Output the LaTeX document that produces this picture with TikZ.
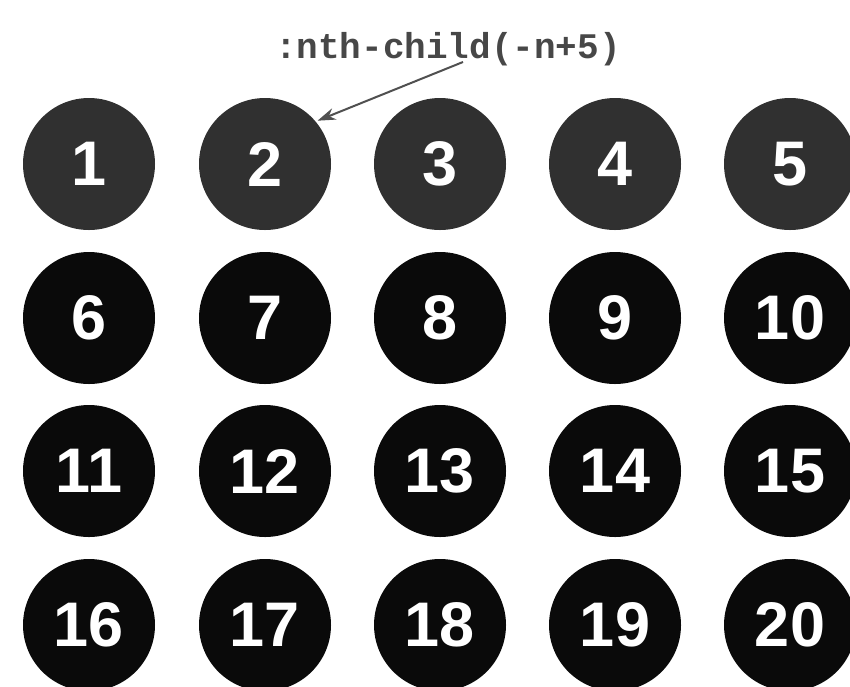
\documentclass[tikz,border=0pt]{standalone}
\usepackage{fontspec}
\setmainfont{Liberation Sans}
\newfontfamily\monof{Liberation Mono}
\usetikzlibrary{arrows.meta}
\definecolor{topgray}{HTML}{303030}
\definecolor{ballblack}{HTML}{0A0A0A}
\definecolor{arrowgray}{HTML}{505050}
\tikzset{
  ball/.style={circle, minimum size=132pt, inner sep=0pt, fill=ballblack, text=white,
    font=\fontsize{63}{63}\selectfont\bfseries},
  topball/.style={ball, fill=topgray},
  selector/.style={font=\monof\bfseries\fontsize{36}{36}\selectfont, text=black!72, inner sep=0pt},
  pointer/.style={draw=arrowgray, line width=2pt, -{Stealth[length=18pt,width=12pt]}}
}
\begin{document}
\begin{tikzpicture}[x=1pt,y=-1pt]
  \useasboundingbox (0,0) rectangle (850,686);
  \clip (0,0) rectangle (850,686);
  \fill[white] (0,0) rectangle (850,686);
  \foreach \i/\x in {1/89,2/265,3/440,4/615,5/790} {
    \node[topball] (c\i) at (\x,164) {\i};
  }
  \foreach \r/\y in {1/318,2/471,3/625} {
    \foreach \c/\x in {1/89,2/265,3/440,4/615,5/790} {
      \pgfmathtruncatemacro{\n}{\r*5+\c}
      \node[ball] (c\n) at (\x,\y) {\n};
    }
  }
  \node[selector, anchor=base] (lbl) at (448,58) {:nth-child(-n+5)};
  \coordinate (as) at (463,62);
  \draw[pointer, shorten >=2pt] (as) -- (c2.40);
\end{tikzpicture}
\end{document}
